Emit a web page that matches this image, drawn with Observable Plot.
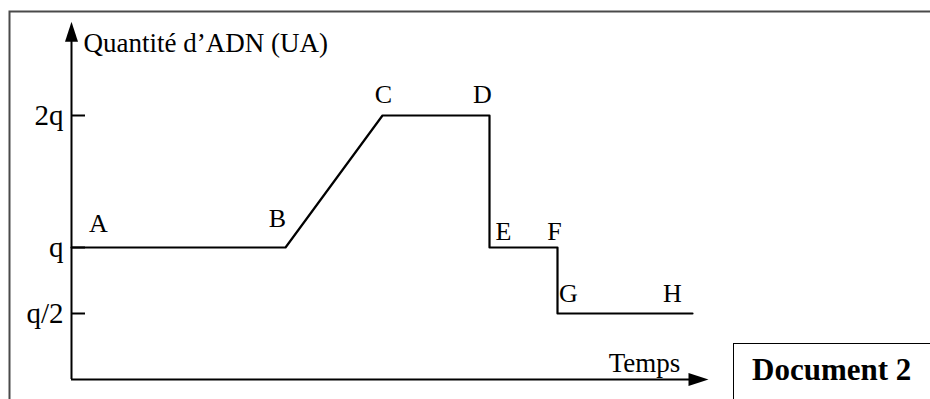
<!DOCTYPE html>
<html>
<head>
<meta charset="utf-8">
<script src="https://cdn.jsdelivr.net/npm/d3@7"></script>
<script src="https://cdn.jsdelivr.net/npm/@observablehq/plot@0.6"></script>
<style>
  html, body { margin: 0; padding: 0; background: #fff; }
  #wrap { position: relative; width: 930px; height: 399px; overflow: hidden;
          font-family: "Liberation Serif", "Times New Roman", serif; }
  #doc { position: absolute; left: 733px; top: 343px; width: 210px; height: 70px;
         border: 1px solid #000; box-sizing: border-box; font-weight: bold;
         font-size: 31px; padding-left: 18px; padding-top: 10px; line-height: 31px; color: #000; }
</style>
</head>
<body>
<div id="wrap"></div>
<script>
// ---- data ----
const pointNames = ["A", "B", "C", "D", "E", "F", "G", "H"];
const times      = [0, 21.4, 31.1, 41.8, 41.8, 48.6, 48.6, 62.1];
const quantities = [1, 1, 2, 2, 1, 1, 0.5, 0.5];
const labelTimes      = [2.7, 20.6, 31.2, 41.1, 43.2, 48.3, 49.7, 60.1];
const labelQuantities = [1.18, 1.22, 2.16, 2.16, 1.12, 1.12, 0.65, 0.65];
const tickValues = [2, 1, 0.5];
const tickLabels = ["2q", "q", "q/2"];
const yTitle = "Quantité d’ADN (UA)";
const xTitle = "Temps";
const docLabel = "Document 2";
const axisEnds = { xMax: 63.7, yMax: 2.71 };
const titlePos = { yTitleT: 1.2, yTitleQ: 2.55, xTitleT: 57.3, xTitleQ: 0.12 };

// ---- build ----
const curve = times.map((t, i) => ({ t, q: quantities[i] }));
const pointLabels = pointNames.map((n, i) => ({ n, t: labelTimes[i], q: labelQuantities[i] }));
const ticks = tickValues.map((v, i) => ({ v, label: tickLabels[i] }));

const arrowHead = {
  draw(ctx) {
    const l = 20, w = 13;
    ctx.moveTo(0, 0);
    ctx.lineTo(-w / 2, l);
    ctx.lineTo(w / 2, l);
    ctx.closePath();
  }
};

const chart = Plot.plot({
  width: 930,
  height: 399,
  marginLeft: 9,
  marginTop: 11,
  marginRight: -4,
  marginBottom: -4,
  x: { domain: [0, 86], range: [71, 931], axis: null },
  y: { domain: [0, 2.75], range: [379, 379 - 2.75 * 132], axis: null },
  style: { fontFamily: '"Liberation Serif", "Times New Roman", serif', fontSize: "26px",
           background: "#fff", color: "#000", overflow: "hidden" },
  marks: [
    Plot.frame({ stroke: "#4a4a4a", strokeWidth: 2 }),
    // axes
    Plot.ruleX([0], { y1: 0, y2: axisEnds.yMax - 0.05, stroke: "#000", strokeWidth: 2 }),
    Plot.ruleY([0], { x1: 0, x2: axisEnds.xMax - 0.5, stroke: "#000", strokeWidth: 2 }),
    Plot.dot([{ t: 0, q: axisEnds.yMax }], { x: "t", y: "q", symbol: arrowHead, fill: "#000", stroke: "none", r: 5 }),
    Plot.dot([{ t: axisEnds.xMax, q: 0 }], { x: "t", y: "q", symbol: arrowHead, rotate: 90, fill: "#000", stroke: "none", r: 5 }),
    // ticks
    Plot.ruleY(ticks, { y: "v", x1: 0, x2: 1.4, stroke: "#000", strokeWidth: 2 }),
    Plot.text(ticks, { x: 0, y: "v", text: "label", textAnchor: "end", dx: -8, fontSize: 29, fill: "#000" }),
    // curve
    Plot.line(curve, { x: "t", y: "q", stroke: "#000", strokeWidth: 2.2, curve: "linear" }),
    Plot.text(pointLabels, { x: "t", y: "q", text: "n", fontSize: 26, fill: "#000" }),
    // titles
    Plot.text([yTitle], { x: titlePos.yTitleT, y: titlePos.yTitleQ, text: d => d, textAnchor: "start", fontSize: 27, fill: "#000" }),
    Plot.text([xTitle], { x: titlePos.xTitleT, y: titlePos.xTitleQ, text: d => d, fontSize: 27, fill: "#000" })
  ]
});

const wrap = document.getElementById("wrap");
wrap.appendChild(chart);
const doc = document.createElement("div");
doc.id = "doc";
doc.textContent = docLabel;
wrap.appendChild(doc);
</script>
</body>
</html>
